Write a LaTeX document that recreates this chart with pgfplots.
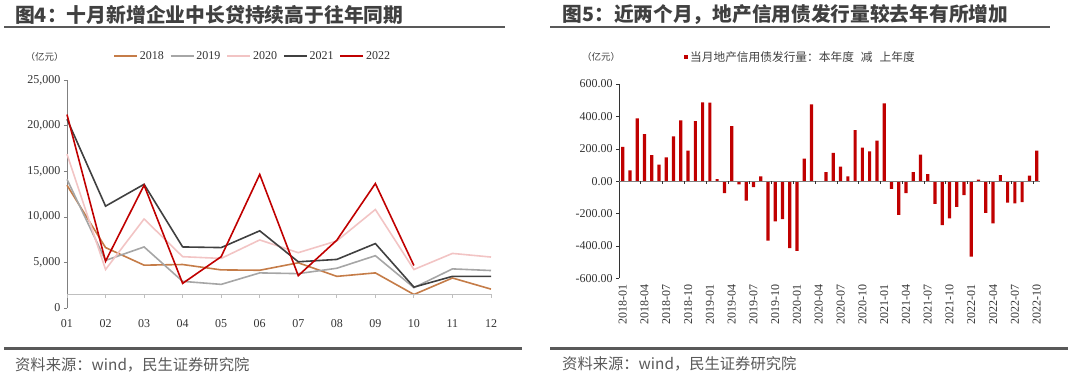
\documentclass[border=0pt]{standalone}
\usepackage{pgfplots}
\pgfplotsset{compat=1.18}
\usepackage{fontspec}
\setmainfont{Liberation Serif}
\newfontfamily\cjk{Noto Sans CJK SC}
\definecolor{c2018}{RGB}{197,124,72}
\definecolor{c2019}{RGB}{166,166,166}
\definecolor{c2020}{RGB}{242,196,196}
\definecolor{c2021}{RGB}{64,64,64}
\definecolor{c2022}{RGB}{192,0,0}
\definecolor{rulegray}{RGB}{89,89,89}
\definecolor{txtgray}{RGB}{64,64,64}
\definecolor{srcgray}{RGB}{89,89,89}
\definecolor{axgray}{RGB}{128,128,128}
\definecolor{lightax}{RGB}{191,191,191}
\definecolor{tickgray}{RGB}{51,51,51}
\begin{document}
\begin{tikzpicture}
\path[use as bounding box] (0pt,0pt) rectangle (1080pt,379pt);
% titles and rules
\node[anchor=west, inner sep=0pt, text=txtgray] at (15pt,364.5pt) {\cjk\bfseries\fontsize{19.8}{20}\selectfont 图4：十月新增企业中长贷持续高于往年同期};
\node[anchor=west, inner sep=0pt, text=txtgray] at (562.5pt,364.5pt) {\cjk\bfseries\fontsize{19.7}{20}\selectfont 图5：近两个月，地产信用债发行量较去年有所增加};
\draw[line width=2pt, rulegray] (4pt,352.3pt) -- (505pt,352.3pt);
\draw[line width=2pt, rulegray] (550pt,352.3pt) -- (1050pt,352.3pt);
\draw[line width=3pt, rulegray] (4pt,30.5pt) -- (522pt,30.5pt);
\draw[line width=3pt, rulegray] (550pt,30.5pt) -- (1068pt,30.5pt);
\node[anchor=west, inner sep=0pt, text=srcgray] at (15pt,14.5pt) {\cjk\fontsize{15.3}{15}\selectfont 资料来源：wind，民生证券研究院};
\node[anchor=west, inner sep=0pt, text=srcgray] at (562pt,15.5pt) {\cjk\fontsize{15.3}{15}\selectfont 资料来源：wind，民生证券研究院};
\node[inner sep=0pt, text=txtgray] at (44.5pt,322.5pt) {\cjk\fontsize{9.5}{10}\selectfont （亿元）};
\node[inner sep=0pt, text=txtgray] at (601pt,322pt) {\cjk\fontsize{9.5}{10}\selectfont （亿元）};

% left chart
\begin{axis}[
  at={(67pt,71.3pt)}, anchor=south west, scale only axis,
  width=424pt, height=227.7pt,
  xmin=1, xmax=12, ymin=0, ymax=25000,
  axis lines=left, axis line style={-, draw=axgray, line width=0.8pt},
  x axis line style={draw=none},
  xtick={1,...,12},
  xticklabels={01,02,03,04,05,06,07,08,09,10,11,12},
  major x tick style={draw=none},
  ytick={0,5000,10000,15000,20000,25000},
  yticklabels={0,{5,000},{10,000},{15,000},{20,000},{25,000}},
  scaled y ticks=false,
  major y tick style={draw=axgray},
  tick align=outside, major tick length=3pt,
  tick label style={font=\fontsize{12}{12}\selectfont, text=tickgray},
  x tick label style={yshift=-5pt},
  clip=false,
  legend columns=5,
  legend style={at={(0.1085,1.105)}, anchor=west, draw=none, fill=none,
    font=\fontsize{12}{12}\selectfont, text=tickgray, inner sep=0pt,
    /tikz/every even column/.append style={column sep=4pt}},
  legend image code/.code={\draw[#1] (0pt,0pt) -- (23pt,0pt);},
]
\addplot[c2018, line width=1.6pt] coordinates {(1,13450) (2,6600) (3,4670) (4,4740) (5,4150) (6,4110) (7,4930) (8,3440) (9,3820) (10,1450) (11,3260) (12,2040)};
\addlegendentry{2018}
\addplot[c2019, line width=1.6pt] coordinates {(1,14100) (2,5190) (3,6670) (4,2890) (5,2560) (6,3820) (7,3740) (8,4330) (9,5710) (10,2200) (11,4260) (12,4080)};
\addlegendentry{2019}
\addplot[c2020, line width=1.6pt] coordinates {(1,16850) (2,4190) (3,9740) (4,5600) (5,5410) (6,7440) (7,6040) (8,7330) (9,10780) (10,4190) (11,5960) (12,5560)};
\addlegendentry{2020}
\addplot[c2021, line width=1.6pt] coordinates {(1,20700) (2,11150) (3,13550) (4,6670) (5,6600) (6,8440) (7,5040) (8,5300) (9,7040) (10,2260) (11,3440) (12,3440)};
\addlegendentry{2021}
\addplot[c2022, line width=1.6pt] coordinates {(1,21200) (2,5100) (3,13450) (4,2670) (5,5600) (6,14630) (7,3520) (8,7410) (9,13630) (10,4630)};
\addlegendentry{2022}
\draw[lightax, line width=1pt] (axis cs:1,1490) -- (axis cs:12,1490);
\pgfplotsinvokeforeach{1,...,12}{\draw[lightax, line width=1pt] (axis cs:#1,1490) -- ++(0pt,-4pt);}
\end{axis}

% right chart
\begin{axis}[
  at={(619.1pt,100.7pt)}, anchor=south west, scale only axis,
  width=421.2pt, height=194.3pt,
  xmin=-0.5, xmax=57.5, ymin=-600, ymax=600,
  axis lines=left, axis line style={-, draw=tickgray, line width=0.8pt},
  x axis line style={draw=none},
  xtick={0,3,...,57},
  xticklabels={2018-01,2018-04,2018-07,2018-10,2019-01,2019-04,2019-07,2019-10,2020-01,2020-04,2020-07,2020-10,2021-01,2021-04,2021-07,2021-10,2022-01,2022-04,2022-07,2022-10},
  major x tick style={draw=none},
  x tick label style={rotate=90, anchor=east},
  ytick={-600,-400,...,600},
  yticklabels={-600.00,-400.00,-200.00,0.00,200.00,400.00,600.00},
  major y tick style={draw=tickgray},
  tick align=outside, major tick length=3pt,
  tick label style={font=\fontsize{12}{12}\selectfont, text=tickgray},
  clip=false,
  legend style={at={(0.154,1.139)}, anchor=west, draw=none, fill=none,
    font=\cjk\fontsize{11.7}{12}\selectfont, text=txtgray, inner sep=0pt},
  legend image code/.code={\fill[c2022] (0pt,-2pt) rectangle (4pt,2pt);},
]
\addplot[ybar, bar width=3.2pt, fill=c2022, draw=none] coordinates {
(0,211) (1,66) (2,387) (3,290) (4,160) (5,102) (6,147) (7,276) (8,375) (9,189)
(10,371) (11,487) (12,485) (13,12) (14,-74) (15,340) (16,-20) (17,-120) (18,-37) (19,29)
(20,-368) (21,-248) (22,-234) (23,-414) (24,-430) (25,139) (26,474) (27,0) (28,56) (29,174)
(30,89) (31,29) (32,315) (33,207) (34,184) (35,251) (36,481) (37,-47) (38,-209) (39,-74)
(40,56) (41,164) (42,43) (43,-140) (44,-271) (45,-230) (46,-159) (47,-87) (48,-466) (49,9)
(50,-196) (51,-261) (52,37) (53,-132) (54,-137) (55,-130) (56,34) (57,189)};
\addlegendentry{当月地产信用债发行量：本年度\hspace{7pt}减\hspace{7pt}上年度}
\draw[axgray, line width=1pt] (axis cs:-0.5,0) -- (axis cs:57.5,0);
\pgfplotsinvokeforeach{2.5,5.5,...,56.5}{\draw[tickgray, line width=0.8pt] (axis cs:#1,0) -- ++(0pt,-3pt);}
\end{axis}
\end{tikzpicture}
\end{document}
